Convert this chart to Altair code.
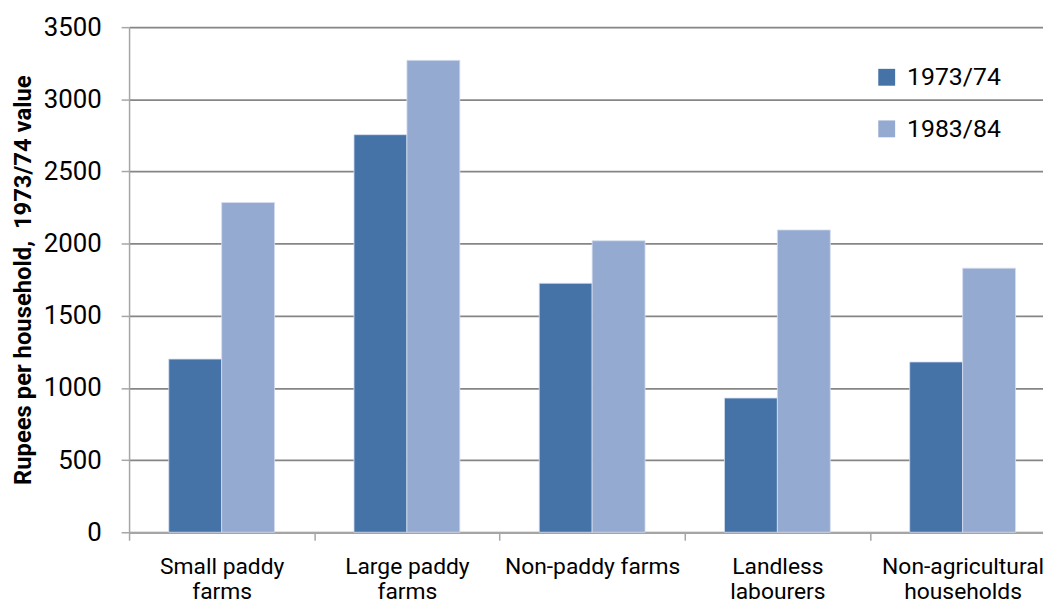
import altair as alt
import pandas as pd

categories = ["Small paddy farms", "Large paddy farms", "Non-paddy farms",
              "Landless labourers", "Non-agricultural households"]
label_lines = [["Small paddy", "farms"], ["Large paddy", "farms"], ["Non-paddy farms"],
               ["Landless", "labourers"], ["Non-agricultural", "households"]]
series_names = ["1973/74", "1983/84"]
values_1973 = [1200, 2755, 1725, 930, 1180]
values_1983 = [2285, 3270, 2020, 2095, 1830]
colors = ["#4673A7", "#95AAD0"]
y_ticks = [0, 500, 1000, 1500, 2000, 2500, 3000, 3500]

rows = []
for c, a, b in zip(categories, values_1973, values_1983):
    rows.append({"category": c, "series": series_names[0], "value": a})
    rows.append({"category": c, "series": series_names[1], "value": b})
df = pd.DataFrame(rows)

expr = "datum.label"
for c, lines in reversed(list(zip(categories, label_lines))):
    arr = "[" + ",".join("'" + l + "'" for l in lines) + "]"
    expr = f"datum.label == '{c}' ? {arr} : ({expr})"

FONT = "Roboto"

chart = alt.Chart(df).mark_bar(stroke="#d6deee", strokeWidth=0.8).encode(
    x=alt.X("category:N", sort=categories,
            scale=alt.Scale(range=[0, 933.33], paddingInner=0, paddingOuter=0),
            axis=alt.Axis(title=None, labelAngle=0, tickBand="extent", grid=False,
                          labelExpr=expr, labelFontSize=23, labelFont=FONT,
                          labelColor="#000000", labelLineHeight=25,
                          labelPadding=16, tickSize=8, domainColor="#A6A6A6",
                          tickColor="#A6A6A6", domainWidth=1.5, tickWidth=1.5,
                          labelBaseline="top")),
    xOffset=alt.XOffset("series:N", sort=series_names,
                        scale=alt.Scale(paddingInner=0, paddingOuter=0.75)),
    y=alt.Y("value:Q", scale=alt.Scale(domain=[0, 3500]),
            axis=alt.Axis(values=y_ticks, format="d",
                          title="Rupees per household,\u00a0 1973/74 value",
                          titleFont=FONT, titleFontSize=24, titleFontWeight="bold",
                          titleColor="#000000", titleX=-106, titleY=254.5,
                          titleBaseline="middle", titleAngle=270,
                          labelFont=FONT, labelFontSize=26, labelColor="#000000",
                          labelPadding=20, tickSize=8, domainColor="#A6A6A6",
                          tickColor="#A6A6A6", domainWidth=1.5, tickWidth=1.5,
                          gridColor="#868686", gridWidth=1.8)),
    color=alt.Color("series:N", sort=series_names,
                    scale=alt.Scale(domain=series_names, range=colors),
                    legend=alt.Legend(title=None, orient="none", legendX=751, legendY=38,
                                      symbolType="square", symbolSize=289,
                                      symbolStrokeWidth=0, labelFont=FONT,
                                      labelFontSize=25, labelColor="#000000",
                                      rowPadding=26, labelOffset=8, padding=0)),
).properties(
    width=921, height=509,
    autosize=alt.AutoSizeParams(type="none"),
    padding={"left": 122, "top": 17, "right": 0, "bottom": 70},
).configure_view(stroke=None).configure(background="white")

chart.save("out.html", embed_options={"renderer": "svg", "actions": False})
